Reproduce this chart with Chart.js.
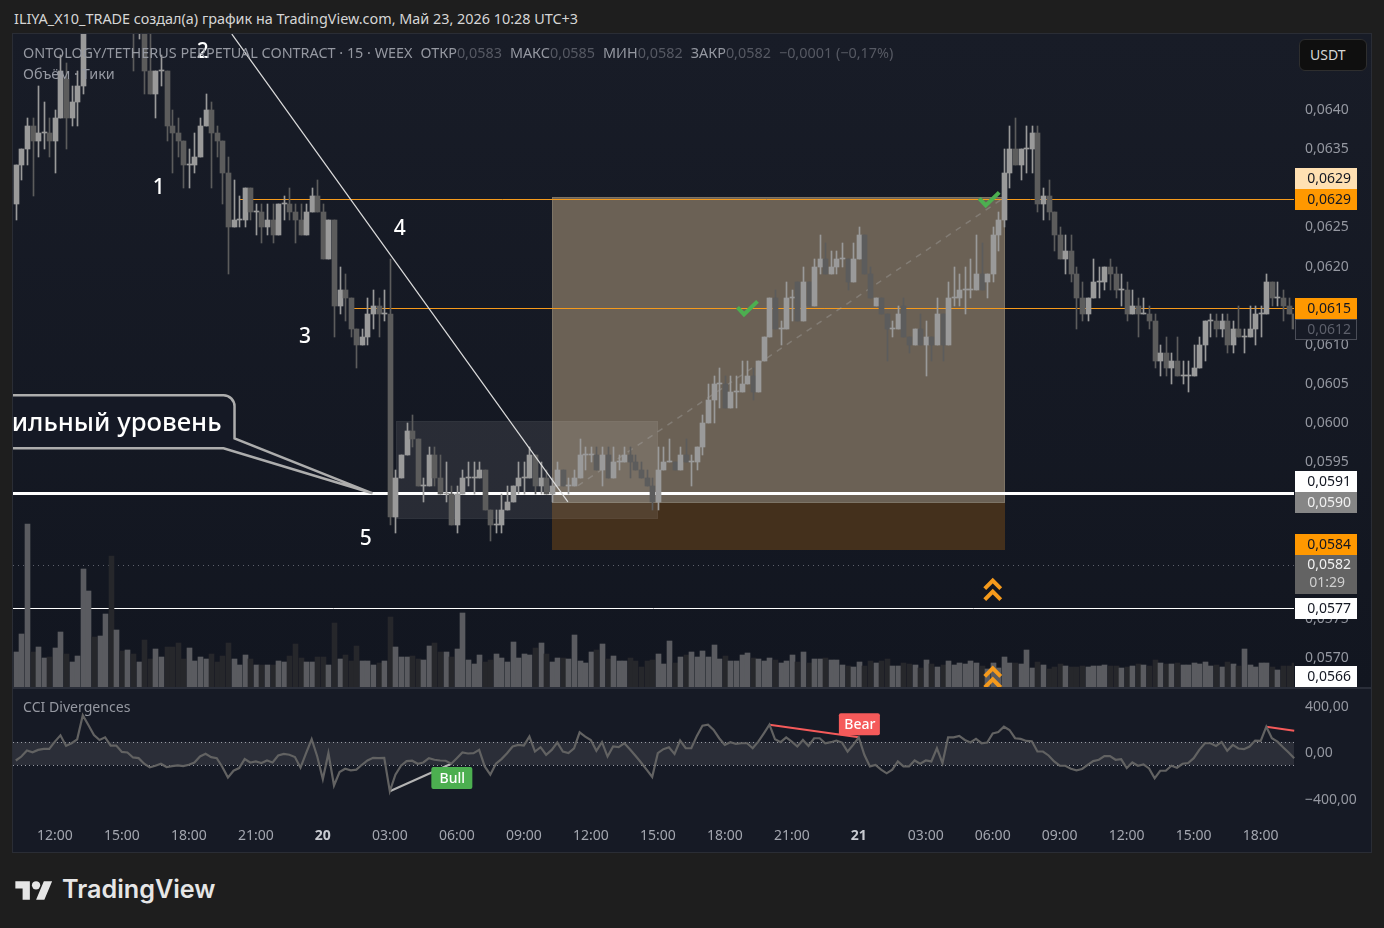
<!DOCTYPE html>
<html>
<head>
<meta charset="utf-8">
<title>ONTOLOGY/TETHERUS</title>
<script src="https://cdn.jsdelivr.net/npm/chart.js@4"></script>
<style>
  html, body { margin: 0; padding: 0; background: #1e1e1e; width: 1384px; height: 928px; overflow: hidden; font-family: "Noto Sans", sans-serif; }
  .abs { position: absolute; white-space: pre; }
  #pane { left: 13px; top: 34px; width: 1358px; height: 818px; background: #161a25; box-shadow: 0 0 0 1px #2a2d35; }
  #mainBg { left: 13px; top: 34px; width: 1358px; height: 653px; background: linear-gradient(#181c27, #121620); }
  #sep { left: 13px; top: 687px; width: 1358px; height: 2px; background: #2a2e39; }
  canvas { position: absolute; }
  #header { left: 14px; top: 9px; font-size: 14.4px; color: #d6d6d6; }
  .legend { left: 23px; font-size: 14.4px; color: #9598a1; }
  .legend i { font-style: normal; color: #565963; }
  .legend b { font-weight: normal; margin-left: 8px; }
  #usdt { left: 1299px; top: 39px; width: 68px; height: 32px; box-sizing: border-box; background: #0f0f0f; border: 1px solid #2e2e2e; border-radius: 6px; color: #d6d6d6; font-size: 14px; line-height: 30px; padding-left: 10px; }
  #logoText { left: 62px; top: 874px; font-family: Inter, sans-serif; font-size: 25.2px; font-weight: 600; color: #e6e6e6; }
</style>
</head>
<body>
<div class="abs" id="pane"></div>
<div class="abs" id="mainBg"></div>
<div class="abs" id="sep"></div>
<canvas id="mainChart" width="1358" height="653" style="left:13px;top:34px"></canvas>
<canvas id="cciChart" width="1358" height="163" style="left:13px;top:689px"></canvas>
<div class="abs" id="header">ILIYA_X10_TRADE создал(а) график на TradingView.com, Май 23, 2026 10:28 UTC+3</div>
<div class="abs legend" style="top:43px">ONTOLOGY/TETHERUS PERPETUAL CONTRACT · 15 · WEEX<b>ОТКР</b><i>0,0583</i><b>МАКС</b><i>0,0585</i><b>МИН</b><i>0,0582</i><b>ЗАКР</b><i>0,0582</i><b><i>−0,0001 (−0,17%)</i></b></div>
<div class="abs legend" style="top:64px">Объём · Тики</div>
<div class="abs legend" style="top:697px;font-size:14.1px">CCI Divergences</div>
<div class="abs" id="usdt">USDT</div>
<svg class="abs" style="left:15px;top:877px" width="38" height="29" viewBox="0 0 36 28"><path fill="#e6e6e6" d="M14 22H7V11H0V4h14v18zM28 22h-8l7.5-18h8L28 22z"/><circle fill="#e6e6e6" cx="20" cy="8" r="4"/></svg>
<div class="abs" id="logoText">TradingView</div>

<script>
// prices are in units of 0.0001
const opens = [
  628,633,635,638,636,637,637,636,639,644,
  639,641,643,652,655,654,656,658,654,656,
  654,655,651,652,645,642,645,645,638,637,
  636,633,633,634,638,640,637,636,632,625,
  626,626,630,627,627,625,626,624,628,628,
  627,626,624,627,629,627,621,626,615,617,
  616,612,610,611,614,615,614,614,588,593,
  596,599,598,592,592,596,593,591,591,587,
  591,593,593,593,594,589,587,587,589,590,
  592,593,593,596,592,593,591,592,594,592,
  592,593,596,596,596,594,596,593,595,595,
  596,595,594,593,592,590,594,595,595,594,
  596,595,595,597,600,603,605,605,602,604,
  604,605,606,604,608,611,616,612,612,616,
  618,613,618,615,620,621,619,620,621,621,
  618,621,624,619,615,616,614,612,612,615,
  611,610,612,610,611,610,614,610,616,616,
  617,617,617,619,618,619,624,626,632,635,
  633,635,635,637,628,629,627,624,621,622,
  619,616,614,616,618,618,620,619,617,617,
  614,615,614,614,613,608,609,607,608,606,
  606,606,607,610,613,613,612,613,610,612,
  611,611,612,614,614,618,616,616,615,614
];
const highs = [
  633,635,639,639,643,641,639,640,647,646,
  643,645,654,656,657,657,659,659,657,657,
  656,656,654,654,650,645,647,645,640,639,
  636,635,637,639,642,641,638,636,634,631,
  629,630,630,628,628,628,628,628,629,630,
  628,628,628,630,631,628,626,626,620,619,
  616,612,612,616,617,616,617,621,594,596,
  600,601,598,593,597,597,596,595,592,592,
  594,595,595,595,594,589,589,591,592,592,
  595,595,597,596,595,594,593,595,594,593,
  594,598,597,597,597,597,597,597,596,597,
  597,596,595,594,593,597,597,598,595,597,
  598,596,597,601,605,606,607,606,606,606,
  608,608,607,608,611,616,617,613,618,617,
  618,620,618,621,624,623,622,622,623,621,
  623,625,624,620,616,616,614,613,615,616,
  611,612,614,613,611,616,614,618,620,619,
  620,621,624,623,619,625,627,635,638,639,
  635,638,638,638,630,631,627,625,624,624,
  620,618,616,621,620,620,621,620,619,618,
  617,616,616,615,614,610,611,609,611,608,
  608,610,611,613,614,614,614,614,613,615,
  612,615,615,615,619,618,618,617,616,614
];
const lows = [
  626,631,633,629,634,635,634,632,639,635,
  638,638,642,651,653,653,655,653,653,653,
  653,645,649,642,642,639,643,636,632,634,
  630,630,632,634,638,630,634,628,619,625,
  625,625,626,624,623,624,623,624,626,626,
  623,624,624,627,627,621,621,611,614,613,
  611,607,610,610,612,611,613,587,586,593,
  596,597,592,590,592,592,591,590,587,586,
  591,592,591,593,589,585,586,586,589,590,
  591,591,593,591,591,591,590,592,592,591,
  592,593,594,595,594,592,593,593,594,595,
  593,594,593,592,589,589,594,595,594,594,
  595,592,594,596,600,600,602,602,602,602,
  604,605,603,604,608,611,612,610,612,613,
  613,613,615,615,619,619,619,619,620,617,
  618,621,619,616,615,614,608,611,612,611,
  609,610,610,606,608,610,608,610,615,615,
  614,616,617,617,616,618,622,625,630,633,
  631,632,632,627,626,626,622,621,619,618,
  612,613,613,616,616,617,617,616,615,613,
  614,611,614,612,607,606,606,605,606,605,
  604,606,607,608,611,611,611,609,609,611,
  609,611,610,611,614,615,615,613,614,612
];
const closes = [
  633,635,638,636,637,637,636,639,645,639,
  641,643,652,655,654,656,658,654,656,654,
  655,651,652,645,642,645,645,638,637,636,
  633,633,634,638,640,637,636,632,625,626,
  626,630,627,627,625,626,624,628,628,627,
  626,624,627,629,627,621,626,615,617,616,
  612,610,611,614,615,614,614,588,593,596,
  599,598,592,592,596,593,591,591,587,591,
  593,593,593,594,589,587,587,589,590,592,
  593,593,596,592,593,591,592,594,592,592,
  593,596,596,596,594,596,593,595,595,596,
  595,594,593,592,590,594,595,595,594,596,
  595,595,597,600,603,605,605,602,604,604,
  605,606,604,608,611,616,612,612,616,616,
  613,618,615,620,621,619,620,621,621,618,
  621,624,619,616,616,614,612,612,614,611,
  610,612,610,611,610,614,610,616,616,617,
  617,617,619,617,619,624,626,632,635,633,
  635,635,637,628,629,627,624,621,622,619,
  616,614,616,618,618,620,619,617,617,614,
  615,614,614,613,608,609,607,608,606,606,
  606,607,610,613,613,612,613,610,612,611,
  611,612,614,614,618,616,616,615,614,612
];
const volumes = [
  35,53,163,35,40,29,30,39,55,33,
  25,31,118,96,50,51,73,131,57,36,
  37,33,25,47,28,38,30,40,40,44,
  28,39,26,30,28,33,25,31,44,28,
  22,32,28,22,22,22,22,26,25,31,
  43,29,25,25,30,30,22,64,28,32,
  26,41,26,26,22,24,26,70,40,30,
  30,31,28,27,41,44,35,35,30,38,
  74,27,23,32,25,27,33,29,25,45,
  29,33,32,39,44,33,25,29,29,28,
  52,26,24,35,37,43,28,31,26,26,
  29,26,20,26,27,33,23,46,24,30,
  32,35,30,36,30,42,28,31,26,26,
  32,34,29,28,26,29,27,24,26,32,
  25,35,24,28,28,29,27,27,22,21,
  20,25,21,26,24,26,28,21,21,24,
  23,22,19,27,23,20,22,26,22,24,
  23,26,24,21,18,24,19,30,24,24,
  23,37,19,25,22,18,20,23,21,20,
  20,21,20,21,21,22,21,21,19,20,
  21,23,22,21,27,24,23,23,24,22,
  22,24,23,25,21,22,20,25,23,21,
  38,22,20,24,24,20,17,21,21,24
];
const cci = [
  -60,-26,26,11,31,40,40,102,156,65,
  88,122,329,244,159,116,139,68,68,14,
  9,-34,-40,-88,-119,-105,-88,-116,-108,-102,
  -108,-97,-77,-26,-3,-31,-40,-116,-207,-148,
  -125,-48,-77,-68,-82,-60,-77,-17,-3,-11,
  -31,-122,3,122,-26,-219,3,-275,-159,-131,
  -145,-139,-97,-60,-37,-40,-37,-324,-182,-105,
  -65,-62,-88,-77,-40,-54,-60,-62,-88,-40,
  9,0,3,31,-111,-182,-88,-48,3,60,
  74,68,145,17,54,-11,31,94,17,3,
  45,182,145,116,23,97,-26,60,54,88,
  37,-20,-77,-139,-202,3,37,54,-3,111,
  45,45,151,239,247,202,131,74,97,82,
  88,88,45,102,173,247,122,97,139,102,
  60,116,65,131,131,88,97,111,94,17,
  74,139,-11,-111,-99,-139,-170,-139,-68,-111,
  -111,-60,-88,-60,-68,45,-82,139,139,151,
  116,94,125,88,94,173,185,230,202,131,
  125,108,105,17,17,-17,-68,-105,-105,-131,
  -145,-133,-97,-65,-54,-23,-23,-54,-48,-125,
  -77,-105,-94,-128,-213,-148,-148,-105,-122,-88,
  -82,-40,31,88,88,65,99,23,74,43,
  37,60,111,108,230,131,102,54,9,-40
];

// time axis
const tickIndex = [7,19,31,43,55,67,79,91,103,115,127,139,151,163,175,187,199,211,223];
const tickText = ['12:00','15:00','18:00','21:00','20','03:00','06:00','09:00','12:00','15:00','18:00','21:00','21','03:00','06:00','09:00','12:00','15:00','18:00'];
const priceTicks = [570,575,580,585,590,595,600,605,610,615,620,625,630,635,640];
const cciTicks = [400,0,-400];

// horizontal levels
const whiteLevel = 591.17;
const thinWhiteLevel = 576.47;
const lastPriceLevel = 581.87;
const orangeLevels = [628.57, 614.67];
const orangeStart = [40, 60.6];

// drawings: [first index, last index, top level, bottom level]
const profitBox = [96, 177.2, 628.87, 589.77];
const stopBox = [96, 177.2, 589.77, 583.87];
const greyBox = [68.1, 115, 600.27, 587.77];
const trendLine = [38.7, 649.67, 98.9, 589.97];
const tradeLine = [100.7, 592.04, 177.2, 628.87];
const checkIndex = [130.8, 174.1];
const checkLevel = [614.67, 628.57];
const chevronIndex = [175, 175];
const chevronLevel = [578.77, 567.57];
const waveText = ['1','2','3','4','5'];
const waveIndex = [25.6, 33.5, 51.8, 68.8, 62.7];
const waveLevel = [630.1, 647.5, 611.1, 624.9, 585.4];
const calloutText = 'Сильный уровень';
const calloutIndex = 63.9;
const calloutLevel = 591.07;

// price scale badges
const badgeText = ['0,0629','0,0629','0,0615','0,0612','0,0591','0,0590','0,0584','0,0577','0,0566'];
const badgeLevel = [631.27, 628.62, 614.71, 612.03, 592.63, 589.97, 584.57, 576.47, 567.77];
const badgeBg = ['#ffe0b2','#ff9800','#ff9800','#171b26','#ffffff','#868686','#ff9800','#ffffff','#ffffff'];
const badgeFg = ['#131722','#131722','#131722','#5d606b','#131722','#f0f0f0','#131722','#131722','#131722'];

// CCI divergences
const bullPoints = [[67,-324],[78,-88]];
const bearPoints = [[135,247],[151,139]];
const bearPoints2 = [[224,230],[229,196]];
const tagText = ['Bull','Bear'];
const tagIndex = [78.2, 151.2];
const tagValue = [-211, 252];
const tagColor = ['#4caf50','#f55a5a'];

const LIGHT = '#9a9a9a', DARK = '#5c5c5c';
const VOL_LIGHT = '#5a5b60', VOL_DARK = '#26272b';
const FONT = '"Noto Sans", sans-serif';

function isUp(i) { return closes[i] >= opens[i]; }

const categories = opens.map(() => '');
tickIndex.forEach((idx, k) => { categories[idx] = tickText[k]; });

// bars land on whole pixels like the original
const snapBars = {
  id: 'snapBars',
  beforeDatasetsDraw(chart) {
    chart.data.datasets.forEach((ds, n) => {
      if (ds.type === 'line') return;
      chart.getDatasetMeta(n).data.forEach(el => {
        el.x = Math.round(el.x) + 0.5;
        el.width = ds.maxBarThickness;
        el.y = Math.round(el.y);
        el.base = Math.round(el.base);
        if (el.y === el.base) el.base = el.y + 1;
      });
    });
  }
};

function noPadding(scale) {
  scale.paddingTop = scale.paddingBottom = scale.paddingLeft = scale.paddingRight = 0;
}

function hLine(ctx, x1, x2, y, color, width, dash) {
  ctx.save();
  ctx.strokeStyle = color;
  ctx.lineWidth = width;
  ctx.setLineDash(dash || []);
  ctx.beginPath();
  const yy = Math.round(y) + (width % 2 ? 0.5 : 0);
  ctx.moveTo(x1, yy);
  ctx.lineTo(x2, yy);
  ctx.stroke();
  ctx.restore();
}

function fillBox(chart, box, color, border) {
  const { x, y } = chart.scales;
  const l = Math.round(x.getPixelForValue(box[0])), r = Math.round(x.getPixelForValue(box[1]));
  const t = Math.round(y.getPixelForValue(box[2])), b = Math.round(y.getPixelForValue(box[3]));
  const ctx = chart.ctx;
  ctx.fillStyle = color;
  ctx.fillRect(l, t, r - l, b - t);
  if (border) {
    ctx.strokeStyle = border;
    ctx.lineWidth = 1;
    ctx.strokeRect(l + 0.5, t + 0.5, r - l - 1, b - t - 1);
  }
}

const behindCandles = {
  id: 'behindCandles',
  beforeDatasetsDraw(chart) {
    const ctx = chart.ctx, { x, y } = chart.scales, a = chart.chartArea;
    const right = a.right - 3;
    ctx.save();
    ctx.beginPath();
    ctx.rect(a.left, a.top, right - a.left, a.bottom - a.top);
    ctx.clip();
    hLine(ctx, a.left, right, y.getPixelForValue(thinWhiteLevel), '#ffffff', 1);
    hLine(ctx, a.left, right, y.getPixelForValue(lastPriceLevel), '#5d606b', 1, [1, 4]);
    fillBox(chart, profitBox, '#6b6155', '#7d7466');
    fillBox(chart, stopBox, '#44301c');
    hLine(ctx, a.left, right, y.getPixelForValue(whiteLevel), '#ffffff', 3);
    orangeLevels.forEach((lvl, k) => {
      hLine(ctx, x.getPixelForValue(orangeStart[k]), right, y.getPixelForValue(lvl), '#f59a1c', 1);
    });
    fillBox(chart, greyBox, 'rgba(255,255,255,0.09)', 'rgba(255,255,255,0.03)');
    // dashed trade path
    ctx.strokeStyle = 'rgba(175,175,175,0.35)';
    ctx.lineWidth = 1.5;
    ctx.setLineDash([6, 6]);
    ctx.beginPath();
    ctx.moveTo(x.getPixelForValue(tradeLine[0]), y.getPixelForValue(tradeLine[1]));
    ctx.lineTo(x.getPixelForValue(tradeLine[2]), y.getPixelForValue(tradeLine[3]));
    ctx.stroke();
    ctx.restore();
  }
};

const overCandles = {
  id: 'overCandles',
  afterDatasetsDraw(chart) {
    const ctx = chart.ctx, { x, y } = chart.scales, a = chart.chartArea;
    ctx.save();
    ctx.beginPath();
    ctx.rect(a.left, a.top, a.right - 3 - a.left, a.bottom - a.top);
    ctx.clip();

    // falling trend line
    ctx.strokeStyle = '#dcdcdc';
    ctx.lineWidth = 1.2;
    ctx.beginPath();
    ctx.moveTo(x.getPixelForValue(trendLine[0]), y.getPixelForValue(trendLine[1]));
    ctx.lineTo(x.getPixelForValue(trendLine[2]), y.getPixelForValue(trendLine[3]));
    ctx.stroke();

    // wave numbers
    ctx.fillStyle = '#ffffff';
    ctx.font = '500 21px ' + FONT;
    ctx.textAlign = 'center';
    ctx.textBaseline = 'middle';
    waveText.forEach((t, k) => {
      ctx.fillText(t, x.getPixelForValue(waveIndex[k]), y.getPixelForValue(waveLevel[k]) + 1);
    });

    // checks
    ctx.strokeStyle = '#4caf50';
    ctx.lineWidth = 4;
    checkIndex.forEach((idx, k) => {
      const cx = x.getPixelForValue(idx), cy = y.getPixelForValue(checkLevel[k]);
      ctx.beginPath();
      ctx.moveTo(cx - 8.5, cy - 1);
      ctx.lineTo(cx - 2, cy + 6);
      ctx.lineTo(cx + 11.5, cy - 7);
      ctx.stroke();
    });

    // double chevrons
    ctx.strokeStyle = '#f59a1c';
    ctx.lineWidth = 4;
    chevronIndex.forEach((idx, k) => {
      const cx = x.getPixelForValue(idx), cy = y.getPixelForValue(chevronLevel[k]);
      [-5, 6].forEach(off => {
        ctx.beginPath();
        ctx.moveTo(cx - 8, cy + off + 4);
        ctx.lineTo(cx, cy + off - 4);
        ctx.lineTo(cx + 8, cy + off + 4);
        ctx.stroke();
      });
    });

    // callout
    const tx = x.getPixelForValue(calloutIndex), ty = y.getPixelForValue(calloutLevel);
    const boxR = tx - 138, boxT = ty - 98, boxB = ty - 45;
    ctx.beginPath();
    ctx.moveTo(a.left - 20, boxT);
    ctx.lineTo(boxR - 11, boxT);
    ctx.arcTo(boxR, boxT, boxR, boxT + 11, 11);
    ctx.lineTo(boxR, ty - 55);
    ctx.lineTo(tx, ty);
    ctx.lineTo(boxR - 11, boxB);
    ctx.lineTo(a.left - 20, boxB);
    ctx.closePath();
    ctx.fillStyle = '#151925';
    ctx.fill();
    ctx.strokeStyle = '#adadad';
    ctx.lineWidth = 2.5;
    ctx.stroke();
    ctx.fillStyle = '#ffffff';
    ctx.font = '500 25.7px ' + FONT;
    ctx.textAlign = 'right';
    ctx.fillText(calloutText, boxR - 13, ty - 70);
    ctx.restore();
  },
  afterDraw(chart) {
    const ctx = chart.ctx, y = chart.scales.y, a = chart.chartArea;
    ctx.save();
    ctx.font = '14px ' + FONT;
    ctx.textBaseline = 'middle';
    ctx.textAlign = 'right';
    const left = a.right - 2, w = 62, h = 21;
    badgeText.forEach((t, k) => {
      const cy = Math.round(y.getPixelForValue(badgeLevel[k]));
      ctx.fillStyle = badgeBg[k];
      ctx.fillRect(left, cy - 10, w, h);
      if (t === '0,0612') {
        ctx.strokeStyle = '#4a4d57';
        ctx.strokeRect(left + 0.5, cy - 9.5, w - 1, h - 1);
      }
      ctx.fillStyle = badgeFg[k];
      ctx.fillText(t, left + w - 6, cy + 1);
    });
    // last price with countdown
    ctx.fillStyle = '#636363';
    ctx.fillRect(left, 555 - 34, w, 39);
    ctx.fillStyle = '#f0f0f0';
    ctx.fillText('0,0582', left + w - 6, 565 - 34);
    ctx.fillStyle = '#cfcfcf';
    ctx.fillText('01:29', left + w - 12, 583 - 34);
    ctx.restore();
  }
};

const mainChart = new Chart(document.getElementById('mainChart'), {
  type: 'bar',
  data: {
    labels: categories,
    datasets: [
      {
        type: 'bar', order: 3, grouped: false, yAxisID: 'vol',
        data: volumes, barThickness: 5, maxBarThickness: 5,
        barPercentage: 1, categoryPercentage: 1,
        backgroundColor: volumes.map((v, i) => isUp(i) ? VOL_LIGHT : VOL_DARK),
        clip: { left: 0, top: 0, bottom: 0, right: -3 }
      },
      {
        type: 'bar', order: 2, grouped: false, yAxisID: 'y',
        data: lows.map((l, i) => [l, highs[i]]), barThickness: 1, maxBarThickness: 1,
        barPercentage: 1, categoryPercentage: 1,
        backgroundColor: lows.map((l, i) => isUp(i) ? LIGHT : DARK),
        clip: { left: 0, top: 0, bottom: 0, right: -3 }
      },
      {
        type: 'bar', order: 1, grouped: false, yAxisID: 'y',
        data: opens.map((o, i) => [o, closes[i]]), barThickness: 5, maxBarThickness: 5, minBarLength: 1,
        barPercentage: 1, categoryPercentage: 1,
        backgroundColor: opens.map((o, i) => isUp(i) ? LIGHT : DARK),
        clip: { left: 0, top: 0, bottom: 0, right: -3 }
      }
    ]
  },
  options: {
    responsive: false,
    animation: false,
    layout: { padding: 0 },
    plugins: { legend: { display: false }, tooltip: { enabled: false } },
    scales: {
      x: { display: false, grid: { display: false } },
      y: {
        position: 'right',
        min: 566.35,
        max: 649.68,
        grid: { display: false, drawTicks: false },
        border: { display: false },
        afterFit(scale) { scale.width = 74; noPadding(scale); },
        afterBuildTicks(scale) { scale.ticks = priceTicks.map(v => ({ value: v })); },
        ticks: {
          padding: 8,
          color: '#9598a1',
          font: { family: FONT, size: 14 },
          callback: v => (v / 10000).toFixed(4).replace('.', ',')
        }
      },
      vol: { display: false, position: 'right', min: 0, max: 653 }
    }
  },
  plugins: [snapBars, behindCandles, overCandles]
});

function sparse(points) {
  const out = opens.map(() => null);
  points.forEach(p => { out[p[0]] = p[1]; });
  return out;
}

function lineSet(data, color, width) {
  return { type: 'line', data, borderColor: color, borderWidth: width, pointRadius: 0, tension: 0, spanGaps: true, fill: false };
}

const cciBand = {
  id: 'cciBand',
  beforeDatasetsDraw(chart) {
    const ctx = chart.ctx, y = chart.scales.y, a = chart.chartArea;
    const right = a.right - 3, top = y.getPixelForValue(100), bottom = y.getPixelForValue(-100);
    ctx.fillStyle = 'rgba(255,255,255,0.09)';
    ctx.fillRect(a.left, top, right - a.left, bottom - top);
    hLine(ctx, a.left, right, top, '#9a9da6', 1, [1, 3]);
    hLine(ctx, a.left, right, bottom, '#9a9da6', 1, [1, 3]);
  },
  afterDatasetsDraw(chart) {
    const ctx = chart.ctx, { x, y } = chart.scales;
    ctx.save();
    ctx.font = '500 14px ' + FONT;
    ctx.textAlign = 'center';
    ctx.textBaseline = 'middle';
    tagText.forEach((t, k) => {
      const cx = x.getPixelForValue(tagIndex[k]), cy = y.getPixelForValue(tagValue[k]);
      ctx.fillStyle = tagColor[k];
      ctx.beginPath();
      ctx.roundRect(cx - 21, cy - 11, 41, 22, 2);
      ctx.fill();
      ctx.fillStyle = '#ffffff';
      ctx.fillText(t, cx, cy + 1);
    });
    ctx.restore();
  }
};

const cciChart = new Chart(document.getElementById('cciChart'), {
  type: 'line',
  data: {
    labels: categories,
    datasets: [
      lineSet(cci, '#626262', 2.2),
      lineSet(sparse(bullPoints), '#b4b4b4', 2),
      lineSet(sparse(bearPoints), '#f55a5a', 2),
      lineSet(sparse(bearPoints2), '#f55a5a', 2)
    ]
  },
  options: {
    responsive: false,
    animation: false,
    layout: { padding: 0 },
    plugins: { legend: { display: false }, tooltip: { enabled: false } },
    scales: {
      x: {
        offset: true,
        grid: { display: false, drawTicks: false },
        border: { display: false },
        afterFit(scale) { scale.height = 30; noPadding(scale); },
        ticks: {
          autoSkip: false,
          maxRotation: 0,
          padding: 6,
          color: ctx => (ctx.tick && (ctx.tick.label === '20' || ctx.tick.label === '21')) ? '#c8cad0' : '#a3a6af',
          font: ctx => ({
            family: FONT, size: 14,
            weight: (ctx.tick && (ctx.tick.label === '20' || ctx.tick.label === '21')) ? 'bold' : 'normal'
          })
        }
      },
      y: {
        position: 'right',
        min: -588,
        max: 553.6,
        grid: { display: false, drawTicks: false },
        border: { display: false },
        afterFit(scale) { scale.width = 74; noPadding(scale); },
        afterBuildTicks(scale) { scale.ticks = cciTicks.map(v => ({ value: v })); },
        ticks: {
          padding: 8,
          color: '#9598a1',
          font: { family: FONT, size: 14 },
          callback: v => v.toFixed(2).replace('.', ',').replace('-', '−')
        }
      }
    }
  },
  plugins: [cciBand]
});
</script>
</body>
</html>
